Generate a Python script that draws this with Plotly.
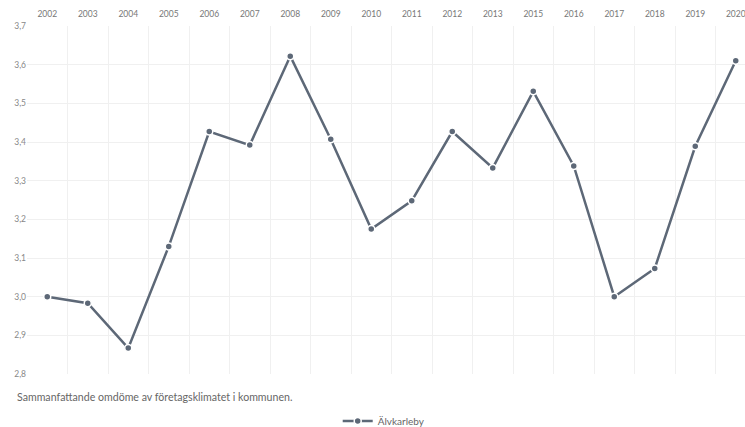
import plotly.graph_objects as go

years = ["2002", "2003", "2004", "2005", "2006", "2007", "2008", "2009", "2010",
         "2011", "2012", "2013", "2015", "2016", "2017", "2018", "2019", "2020"]
values = [3.000, 2.983, 2.867, 3.130, 3.427, 3.392, 3.622, 3.407, 3.175,
          3.248, 3.427, 3.333, 3.531, 3.338, 3.000, 3.073, 3.389, 3.610]
series_name = "Älvkarleby"
caption = "Sammanfattande omdöme av företagsklimatet i kommunen."
y_ticks = [2.8, 2.9, 3.0, 3.1, 3.2, 3.3, 3.4, 3.5, 3.6, 3.7]

line_color = "#5d6877"
font_family = "Lato, 'Open Sans', sans-serif"

fig = go.Figure()
fig.add_trace(go.Scatter(
    x=years, y=values, name=series_name, mode="lines+markers",
    line=dict(color=line_color, width=2.5),
    marker=dict(color=line_color, size=7, line=dict(color="white", width=1.5)),
))

fig.update_layout(
    width=756, height=427,
    margin=dict(l=27, r=0, t=26, b=53, autoexpand=False),
    paper_bgcolor="white", plot_bgcolor="white",
    separators=", ",
    hovermode=False,
    font=dict(family=font_family, color="#666"),
    showlegend=True,
    legend=dict(orientation="h", x=0.49, xanchor="center", y=-0.135, yanchor="middle",
                font=dict(size=10, color="#666")),
    xaxis=dict(
        type="category", side="top", automargin=False, range=[-0.5, 17.5],
        tickson="boundaries", ticks="", showgrid=True, ticklabelstandoff=6,
        gridcolor="#f0f0f0", gridwidth=1, showline=False, zeroline=False,
        tickfont=dict(size=8.5, color="#777"),
    ),
    yaxis=dict(
        range=[2.8, 3.7], tickvals=y_ticks, tickformat=".1f", automargin=False,
        showgrid=True, gridcolor="#f0f0f0", gridwidth=1, zeroline=False,
        showline=False, ticks="", tickfont=dict(size=8.5, color="#888"),
    ),
    annotations=[dict(
        text=caption, xref="paper", yref="paper", x=-0.0165, y=-0.043,
        xanchor="left", yanchor="top", showarrow=False,
        font=dict(size=10.6, color="#666"),
    )],
)

fig.write_html(
    "out.html",
    config={"displayModeBar": False},
    post_script="document.body.style.margin='0';document.body.style.overflow='hidden';",
)
